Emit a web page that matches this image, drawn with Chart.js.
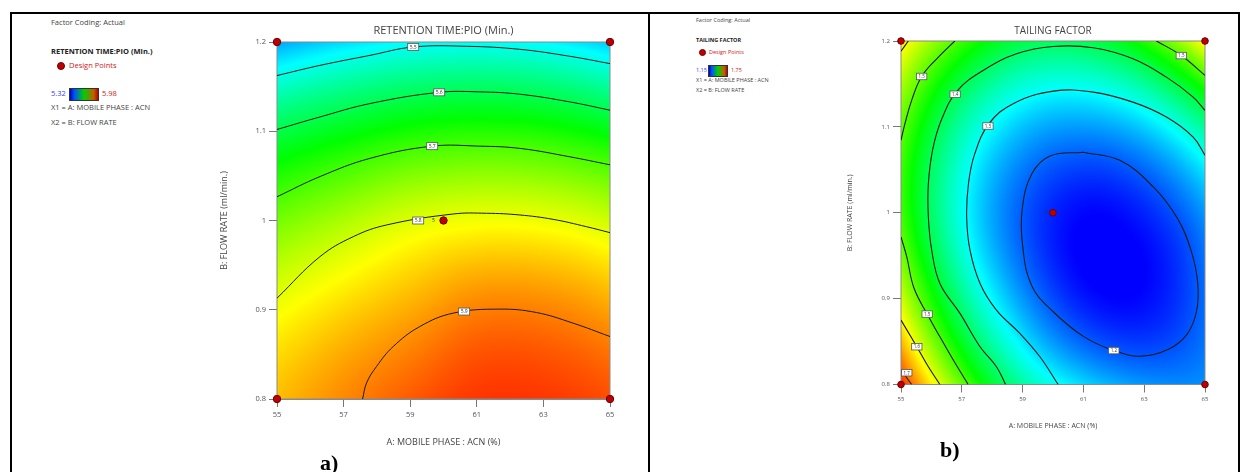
<!DOCTYPE html>
<html>
<head>
<meta charset="utf-8">
<script src="https://cdn.jsdelivr.net/npm/chart.js@4.4.1/dist/chart.umd.min.js"></script>
<style>
  body { margin: 0; width: 1241px; height: 472px; overflow: hidden; position: relative; background: #fff; font-family: 'Open Sans', sans-serif; }
  .frame { position: absolute; left: 10px; top: 12px; width: 1226px; height: 470px; border: 2px solid #000; border-bottom: none; }
  .divider { position: absolute; left: 648px; top: 12px; width: 2px; height: 470px; background: #000; }
  canvas { position: absolute; }
  .leg { position: absolute; white-space: nowrap; line-height: 1; color: #444; }
  .bold { font-weight: bold; color: #222; }
  .red { color: #d02020; }
  .blue { color: #3a3aff; }
  .dot { position: absolute; border-radius: 50%; background: #c00000; border: 1px solid #6a0000; box-sizing: border-box; }
  .bar { position: absolute; border: 1px solid #333; box-sizing: border-box; background: linear-gradient(to right, #0000c0, #0050ff 15%, #00d000 50%, #c06000 85%, #c00000); }
  .tag { position: absolute; font-family: 'Liberation Serif', serif; font-weight: bold; font-size: 22px; line-height: 1; color: #000; }
</style>
</head>
<body>
<div class="frame"></div>
<div class="divider"></div>

<!-- legend a -->
<div class="leg" style="left:51px;top:19px;font-size:7.5px;">Factor Coding: Actual</div>
<div class="leg bold" style="left:51px;top:48px;font-size:7.5px;">RETENTION TIME:PIO (Min.)</div>
<div class="dot" style="left:57px;top:62px;width:8px;height:8px;"></div>
<div class="leg red" style="left:69px;top:62px;font-size:7.5px;">Design Points</div>
<div class="leg blue" style="left:51px;top:90px;font-size:7.5px;">5.32</div>
<div class="bar" style="left:69px;top:88px;width:30px;height:13px;"></div>
<div class="leg red" style="left:102px;top:90px;font-size:7.5px;">5.98</div>
<div class="leg" style="left:51px;top:104px;font-size:7.5px;">X1 = A: MOBILE PHASE : ACN</div>
<div class="leg" style="left:51px;top:119px;font-size:7.5px;">X2 = B: FLOW RATE</div>

<!-- legend b -->
<div class="leg" style="left:696px;top:18px;font-size:5.5px;">Factor Coding: Actual</div>
<div class="leg bold" style="left:696px;top:38px;font-size:5.5px;">TAILING FACTOR</div>
<div class="dot" style="left:699px;top:49px;width:7px;height:7px;"></div>
<div class="leg red" style="left:709px;top:50px;font-size:5.5px;">Design Points</div>
<div class="leg blue" style="left:696px;top:68px;font-size:5.5px;">1.15</div>
<div class="bar" style="left:708px;top:65px;width:20px;height:12px;"></div>
<div class="leg red" style="left:731px;top:68px;font-size:5.5px;">1.75</div>
<div class="leg" style="left:696px;top:78px;font-size:5.5px;">X1 = A: MOBILE PHASE : ACN</div>
<div class="leg" style="left:696px;top:88px;font-size:5.5px;">X2 = B: FLOW RATE</div>

<canvas id="chart-rt" width="440" height="460" style="left:200px;top:0;"></canvas>
<canvas id="chart-tf" width="405" height="445" style="left:830px;top:0;"></canvas>

<div class="tag" style="left:320px;top:452px;">a)</div>
<div class="tag" style="left:940px;top:439px;">b)</div>

<script>
// axes
const acnTicks = [55, 57, 59, 61, 63, 65];
const flowTicks = [0.8, 0.9, 1, 1.1, 1.2];

// design points (4 corners + centre point run 5 times)
const designAcn = [55, 65, 55, 65, 60];
const designFlow = [0.8, 0.8, 1.2, 1.2, 1.0];
const centerRuns = '5';

// response surfaces, rows = flow rate, columns = ACN
const gridAcn = [55, 57, 59, 61, 63, 65];
const gridFlow = [0.8, 0.9, 1.0, 1.1, 1.2];

const rtRange = [5.32, 5.98];
const rtSurface = [
    [5.857, 5.892, 5.922, 5.945, 5.945, 5.930],
    [5.808, 5.841, 5.869, 5.897, 5.896, 5.874],
    [5.724, 5.760, 5.793, 5.807, 5.804, 5.782],
    [5.603, 5.636, 5.662, 5.672, 5.665, 5.639],
    [5.426, 5.462, 5.484, 5.490, 5.481, 5.450]
];

const tfRange = [1.15, 1.75];
const tfSurface = [
    [1.730, 1.510, 1.358, 1.280, 1.240, 1.235],
    [1.575, 1.372, 1.240, 1.164, 1.155, 1.215],
    [1.490, 1.310, 1.203, 1.153, 1.170, 1.240],
    [1.510, 1.352, 1.265, 1.242, 1.273, 1.363],
    [1.615, 1.485, 1.410, 1.405, 1.470, 1.610]
];

// contour lines, [ACN, flow]
const rt55 = [[55, 1.1624], [56.29, 1.1738], [57.79, 1.185], [59.09, 1.1944], [60.69, 1.1952], [62.29, 1.1918], [63.79, 1.184], [65, 1.1758]];
const rt56 = [[55, 1.102], [56.29, 1.116], [57.79, 1.131], [59.87, 1.1436], [61.09, 1.1441], [62.29, 1.1415], [63.79, 1.1329], [65, 1.1236]];
const rt57 = [[55, 1.0266], [56.29, 1.0492], [57.79, 1.0696], [59.66, 1.0833], [61.09, 1.0833], [62.29, 1.0808], [63.79, 1.0714], [65, 1.0624]];
const rt58 = [[55, 0.913], [56.29, 0.9595], [57.29, 0.9819], [58.29, 0.995], [60.29, 1.0073], [61.29, 1.0081], [62.29, 1.0062], [63.29, 1.0013], [64.29, 0.9931], [65, 0.9864]];
const rt59 = [[57.57, 0.80], [57.69, 0.818], [57.99, 0.8365], [58.49, 0.8588], [59.29, 0.8812], [60.29, 0.8962], [61.69, 0.9007], [62.79, 0.8969], [63.89, 0.885], [65, 0.870]];
const rtLabels = [[59.09, 1.1944, '5.5'], [59.87, 1.1436, '5.6'], [59.66, 1.0833, '5.7'], [59.24, 1.0, '5.8'], [60.62, 0.898, '5.9']];

const tf12 = [[61.0, 1.0705], [59.9, 1.066], [59.3, 1.045], [58.99, 1.005], [59.0, 0.962], [59.3, 0.915], [60.0, 0.885], [61.0, 0.856], [62.0, 0.8395], [62.9, 0.833], [63.8, 0.841], [64.4, 0.858], [64.72, 0.885], [64.76, 0.918], [64.55, 0.955], [64.1, 0.993], [63.3, 1.030], [62.2, 1.061], [61.0, 1.0705]];
const tf13 = [[60.17, 0.80], [59.57, 0.8323], [58.91, 0.8595], [58.14, 0.8866], [57.60, 0.9177], [57.27, 0.9564], [57.16, 0.9951], [57.22, 1.034], [57.42, 1.068], [57.90, 1.104], [58.69, 1.127], [60.01, 1.1416], [61.32, 1.1405], [62.63, 1.1288], [63.73, 1.1114], [64.61, 1.0881], [65, 1.0669]];
const tf14 = [[58.44, 0.80], [58.14, 0.8207], [57.60, 0.844], [56.94, 0.8828], [56.28, 0.9177], [56.01, 0.9564], [55.90, 0.9951], [55.90, 1.034], [56.05, 1.075], [56.35, 1.110], [56.85, 1.142], [57.70, 1.1657], [58.80, 1.1851], [60.01, 1.1936], [61.32, 1.1921], [62.63, 1.1793], [63.73, 1.1579], [64.61, 1.1347], [65, 1.1192]];
const tf15top = [[56.77, 1.2], [56.23, 1.1812], [55.68, 1.1587], [55.35, 1.1308], [55.13, 1.1037], [55, 1.0843]];
const tf15low = [[55, 0.9719], [55.19, 0.9486], [55.42, 0.913], [55.86, 0.882], [56.28, 0.8556], [56.72, 0.8285], [57.21, 0.80]];
const tf15right = [[63.40, 1.2], [64.22, 1.1831], [65, 1.1599]];
const tf16low = [[55, 0.875], [55.52, 0.844], [55.90, 0.8207], [56.28, 0.80]];
const tf16top = [[55.24, 1.2], [55, 1.188]];
const tf17 = [[55, 0.8169], [55.35, 0.80]];
const tfLabels = [[62.0, 0.8395, '1.2'], [57.86, 1.101, '1.3'], [56.78, 1.138, '1.4'], [55.68, 1.1587, '1.5'], [55.86, 0.882, '1.5'], [64.22, 1.183, '1.5'], [55.52, 0.844, '1.6'], [55.19, 0.8137, '1.7']];

Chart.defaults.font.family = "'Open Sans', sans-serif";
Chart.defaults.color = '#555';

const rainbow = [[0, 0, 255], [0, 255, 255], [0, 255, 0], [255, 255, 0], [255, 0, 0]];

function colourAt(t) {
    t = Math.max(0, Math.min(1, t)) * 4;
    const i = Math.min(3, Math.floor(t));
    const f = t - i;
    const a = rainbow[i], b = rainbow[i + 1];
    return [a[0] + (b[0] - a[0]) * f, a[1] + (b[1] - a[1]) * f, a[2] + (b[2] - a[2]) * f];
}

// pad the grid by one ring so the cubic works up to the edges
function padGrid(rows) {
    const padRow = r => {
        const n = r.length;
        return [3 * r[0] - 3 * r[1] + r[2], ...r, 3 * r[n - 1] - 3 * r[n - 2] + r[n - 3]];
    };
    const p = rows.map(padRow);
    const n = p.length;
    const first = p[0].map((v, i) => 3 * v - 3 * p[1][i] + p[2][i]);
    const last = p[n - 1].map((v, i) => 3 * v - 3 * p[n - 2][i] + p[n - 3][i]);
    return [first, ...p, last];
}

function cubic(p0, p1, p2, p3, t) {
    return 0.5 * (2 * p1 + (-p0 + p2) * t + (2 * p0 - 5 * p1 + 4 * p2 - p3) * t * t + (-p0 + 3 * p1 - 3 * p2 + p3) * t * t * t);
}

function surfacePlugin(rows, range) {
    const g = padGrid(rows);
    const dx = gridAcn[1] - gridAcn[0], dy = gridFlow[1] - gridFlow[0];
    const sample = (x, y) => {
        const fx = (x - gridAcn[0]) / dx, fy = (y - gridFlow[0]) / dy;
        const i = Math.max(0, Math.min(gridAcn.length - 2, Math.floor(fx)));
        const j = Math.max(0, Math.min(gridFlow.length - 2, Math.floor(fy)));
        const tx = fx - i, ty = fy - j;
        const col = [];
        for (let k = 0; k < 4; k++) {
            const r = g[j + k];
            col.push(cubic(r[i], r[i + 1], r[i + 2], r[i + 3], tx));
        }
        return cubic(col[0], col[1], col[2], col[3], ty);
    };
    let cache = null;
    return {
        id: 'surface',
        beforeDatasetsDraw(chart) {
            const {ctx, chartArea: a, scales: {x, y}} = chart;
            const w = Math.round(a.right - a.left), h = Math.round(a.bottom - a.top);
            if (!cache || cache.width !== w || cache.height !== h) {
                cache = document.createElement('canvas');
                cache.width = w;
                cache.height = h;
                const cx = cache.getContext('2d');
                const img = cx.createImageData(w, h);
                for (let py = 0; py < h; py++) {
                    const fv = y.getValueForPixel(a.top + (py + 0.5) * (a.bottom - a.top) / h);
                    for (let px = 0; px < w; px++) {
                        const av = x.getValueForPixel(a.left + (px + 0.5) * (a.right - a.left) / w);
                        const c = colourAt((sample(av, fv) - range[0]) / (range[1] - range[0]));
                        const o = (py * w + px) * 4;
                        img.data[o] = c[0];
                        img.data[o + 1] = c[1];
                        img.data[o + 2] = c[2];
                        img.data[o + 3] = 255;
                    }
                }
                cx.putImageData(img, 0, 0);
            }
            ctx.drawImage(cache, a.left, a.top, a.right - a.left, a.bottom - a.top);
            ctx.save();
            ctx.strokeStyle = '#8a8a8a';
            ctx.lineWidth = 1;
            ctx.strokeRect(a.left, a.top, a.right - a.left, a.bottom - a.top);
            ctx.restore();
        }
    };
}

function labelPlugin(labels, title, o) {
    return {
        id: 'labels',
        afterDatasetsDraw(chart) {
            const {ctx, chartArea: a, scales: {x, y}} = chart;
            ctx.save();
            ctx.font = o.labelFont + "px 'Open Sans', sans-serif";
            ctx.textAlign = 'center';
            ctx.textBaseline = 'middle';
            labels.forEach(([lx, ly, txt]) => {
                const px = x.getPixelForValue(lx), py = y.getPixelForValue(ly);
                const bw = ctx.measureText(txt).width + 4, bh = o.labelFont + 2;
                ctx.fillStyle = '#fff';
                ctx.fillRect(px - bw / 2, py - bh / 2, bw, bh);
                ctx.strokeStyle = '#555';
                ctx.lineWidth = 0.8;
                ctx.strokeRect(px - bw / 2, py - bh / 2, bw, bh);
                ctx.fillStyle = '#333';
                ctx.fillText(txt, px, py + 0.5);
            });
            // replicate count next to the centre point
            ctx.fillStyle = '#333';
            ctx.fillText(centerRuns, x.getPixelForValue(designAcn[4]) - o.runGap, y.getPixelForValue(designFlow[4]));
            // plot title
            ctx.font = o.titleFont + "px 'Open Sans', sans-serif";
            ctx.fillStyle = '#444';
            ctx.fillText(title, (a.left + a.right) / 2, a.top - o.titleGap);
            ctx.restore();
        }
    };
}

function axes(o) {
    return {
        x: {
            type: 'linear', min: 55, max: 65,
            afterBuildTicks: s => { s.ticks = acnTicks.map(v => ({value: v})); },
            afterFit: s => { s.height = o.xHeight; },
            grid: {drawOnChartArea: false, tickLength: o.tick, color: '#777'},
            border: {color: '#8a8a8a'},
            ticks: {font: {size: o.tickFont}, color: '#555', padding: 3, maxRotation: 0, autoSkip: false, callback: v => String(v)},
            title: {display: true, text: 'A: MOBILE PHASE : ACN (%)', font: {size: o.axisFont}, color: '#444'}
        },
        y: {
            type: 'linear', min: 0.8, max: 1.2,
            afterBuildTicks: s => { s.ticks = flowTicks.map(v => ({value: v})); },
            afterFit: s => { s.width = o.yWidth; },
            grid: {drawOnChartArea: false, tickLength: o.tick, color: '#777'},
            border: {color: '#8a8a8a'},
            ticks: {font: {size: o.tickFont}, color: '#555', padding: 3, autoSkip: false, callback: v => String(v)},
            title: {display: true, text: 'B: FLOW RATE (ml/min.)', font: {size: o.axisFont}, color: '#444'}
        }
    };
}

function lineSet(pts, width) {
    return {
        data: pts.map(([x, y]) => ({x, y})),
        showLine: true, pointRadius: 0, borderColor: '#1a1a1a', borderWidth: width,
        tension: 0.4, fill: false
    };
}

function pointSet(r) {
    return {
        data: designAcn.map((x, i) => ({x, y: designFlow[i]})),
        pointRadius: r, pointBackgroundColor: '#c00000', pointBorderColor: '#6a0000',
        pointBorderWidth: 1, showLine: false, clip: false
    };
}

function makeChart(id, title, surface, range, lines, labels, o) {
    new Chart(document.getElementById(id), {
        type: 'scatter',
        data: {datasets: [pointSet(o.pointR), ...lines.map(l => lineSet(l, o.lineW))]},
        options: {
            responsive: false, animation: false, events: [],
            layout: {padding: o.padding},
            plugins: {legend: {display: false}, tooltip: {enabled: false}},
            scales: axes(o)
        },
        plugins: [surfacePlugin(surface, range), labelPlugin(labels, title, o)]
    });
}

makeChart('chart-rt', 'RETENTION TIME:PIO (Min.)', rtSurface, rtRange,
    [rt55, rt56, rt57, rt58, rt59], rtLabels,
    {padding: {left: 15, right: 30, top: 42, bottom: 8}, xHeight: 53, yWidth: 62, tick: 8,
     tickFont: 7.5, axisFont: 9, titleFont: 11, titleGap: 11, labelFont: 5, runGap: 10, pointR: 3.7, lineW: 1});

makeChart('chart-tf', 'TAILING FACTOR', tfSurface, tfRange,
    [tf12, tf13, tf14, tf15top, tf15low, tf15right, tf16low, tf16top, tf17], tfLabels,
    {padding: {left: 12, right: 30, top: 41, bottom: 11}, xHeight: 49.5, yWidth: 59, tick: 8,
     tickFont: 6, axisFont: 7, titleFont: 10, titleGap: 9.5, labelFont: 4.5, runGap: 7, pointR: 3.3, lineW: 1.1});
</script>
</body>
</html>
